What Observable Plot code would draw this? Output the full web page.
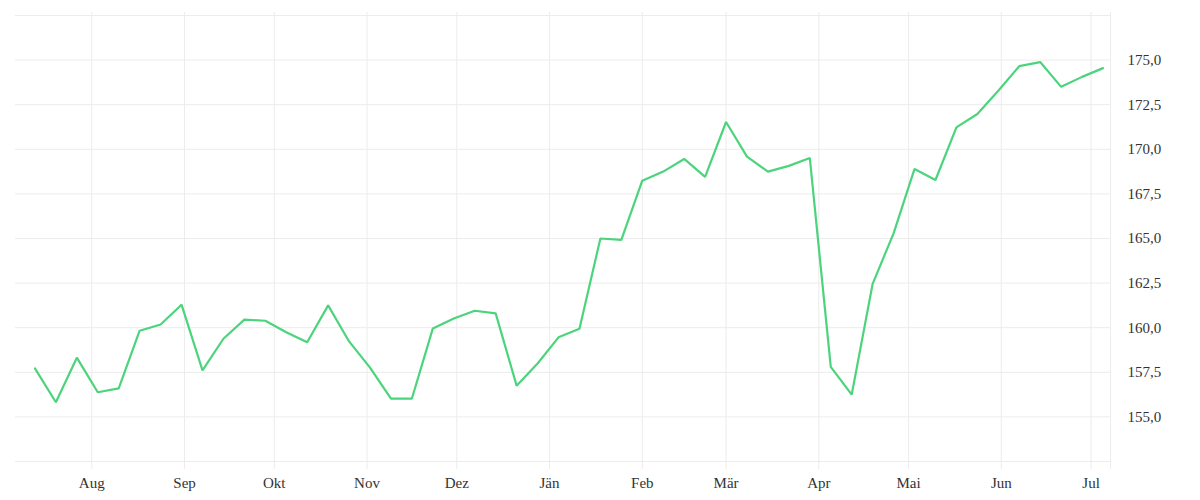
<!DOCTYPE html>
<html>
<head>
<meta charset="utf-8">
<script src="https://cdn.jsdelivr.net/npm/d3@7"></script>
<script src="https://cdn.jsdelivr.net/npm/@observablehq/plot@0.6"></script>
<style>
  html, body { margin: 0; padding: 0; background: #fff; }
  #chart svg { display: block; }
</style>
</head>
<body>
<div id="chart"></div>
<script>
// Weekly values (first week, then one value per week)
const startDate = "2022-07-13";
const values = [
  157.72, 155.82, 158.32, 156.38, 156.60, 159.83, 160.18, 161.29, 157.61, 159.38,
  160.45, 160.39, 159.75, 159.18, 161.25, 159.23, 157.76, 156.03, 156.03, 159.96,
  160.52, 160.95, 160.80, 156.75, 157.99, 159.46, 159.94, 165.00, 164.92, 168.24,
  168.75, 169.46, 168.45, 171.53, 169.59, 168.75, 169.07, 169.51, 157.80, 156.25,
  162.46, 165.29, 168.90, 168.28, 171.23, 171.98, 173.28, 174.66, 174.89, 173.50,
  174.06, 174.55
];
const monthNames = ["Jän", "Feb", "Mär", "Apr", "Mai", "Jun", "Jul", "Aug", "Sep", "Okt", "Nov", "Dez"];
const xDomain = ["2022-07-06T12:00Z", "2023-07-07T12:00Z"];
const yDomain = [152.5, 177.5];
const yGrid = [152.5, 155, 157.5, 160, 162.5, 165, 167.5, 170, 172.5, 175, 177.5];
const yLabels = [155, 157.5, 160, 162.5, 165, 167.5, 170, 172.5, 175];

const t0 = new Date(startDate + "T00:00Z");
const data = values.map((v, i) => ({ date: d3.utcDay.offset(t0, i * 7), value: v }));
const xd = xDomain.map(s => new Date(s));
const monthTicks = d3.utcMonth.range(d3.utcMonth.ceil(xd[0]), xd[1]);
const fmtNum = d3.formatLocale({ decimal: ",", thousands: ".", grouping: [3], currency: ["", "€"] }).format(".1f");

const chart = Plot.plot({
  width: 1200,
  height: 500,
  marginLeft: 15,
  marginRight: 90,
  marginTop: 15,
  marginBottom: 39,
  style: { fontFamily: "'Liberation Serif', serif", fontSize: "15px", color: "#333", background: "#fff" },
  x: { type: "utc", domain: xd, label: null },
  y: { domain: yDomain, label: null },
  marks: [
    Plot.ruleY(yGrid, { y: d => d, stroke: "#ececec", strokeWidth: 1 }),
    Plot.ruleX(monthTicks, { x: d => d, stroke: "#ececec", strokeWidth: 1, insetTop: -3, insetBottom: -8 }),
    Plot.ruleX([xd[1]], { x: d => d, stroke: "#ececec", strokeWidth: 1, insetTop: -3, insetBottom: -8 }),
    Plot.axisX(monthTicks, {
      tickSize: 0, tickPadding: 16, fill: "#333", label: null,
      tickFormat: d => monthNames[d.getUTCMonth()]
    }),
    Plot.axisY(yLabels, {
      anchor: "right", tickSize: 0, tickPadding: 17, fill: "#333", label: null,
      tickFormat: d => fmtNum(d)
    }),
    Plot.line(data, { x: "date", y: "value", stroke: "#4cd47c", strokeWidth: 2.2, strokeLinejoin: "miter" })
  ]
});
document.getElementById("chart").appendChild(chart);
</script>
</body>
</html>
